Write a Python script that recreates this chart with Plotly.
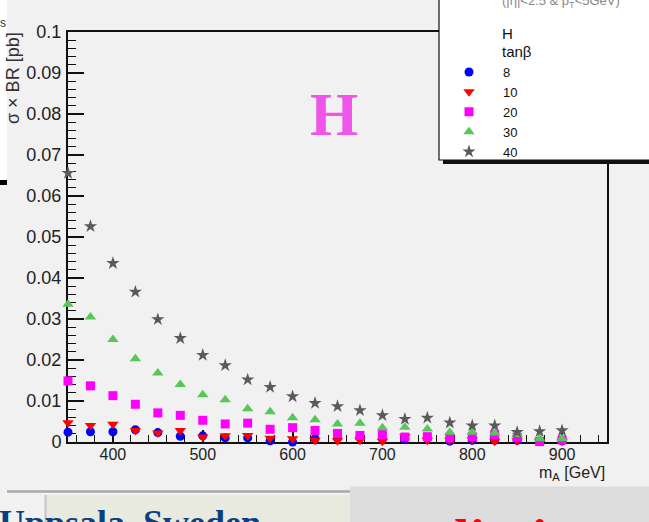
import plotly.graph_objects as go

# Charged Higgs (H) signal: sigma x BR versus m_A for several tan(beta) values
m_A = [350, 375, 400, 425, 450, 475, 500, 525, 550, 575, 600, 625,
       650, 675, 700, 725, 750, 775, 800, 825, 850, 875, 900]

tanb_labels = ["8", "10", "20", "30", "40"]

xsec_tb8 = [0.0024, 0.0025, 0.0025, 0.0030, 0.0023, 0.0014, 0.0015, 0.0010,
            0.0010, 0.0003, 0.0000, 0.0008, 0.0012, 0.0012, 0.0008, 0.0008,
            0.0010, 0.0002, 0.0004, 0.0004, 0.0004, 0.0003, 0.0003]
xsec_tb10 = [0.0047, 0.0040, 0.0043, 0.0028, 0.0022, 0.0028, 0.0012, 0.0015,
             0.0016, 0.0009, 0.0008, 0.0004, 0.0003, 0.0004, 0.0002, 0.0013,
             0.0004, 0.0004, 0.0006, 0.0002, 0.0003, 0.0002, 0.0002]
xsec_tb20 = [0.0149, 0.0137, 0.0113, 0.0092, 0.0071, 0.0065, 0.0053, 0.0044,
             0.0046, 0.0031, 0.0035, 0.0028, 0.0021, 0.0016, 0.0018, 0.0012,
             0.0013, 0.0010, 0.0013, 0.0018, 0.0012, 0.0001, 0.0005]
xsec_tb30 = [0.0336, 0.0305, 0.0250, 0.0203, 0.0168, 0.0140, 0.0115, 0.0103,
             0.0081, 0.0074, 0.0059, 0.0054, 0.0044, 0.0046, 0.0035, 0.0036,
             0.0032, 0.0024, 0.0024, 0.0022, 0.0018, 0.0008, 0.0008]
xsec_tb40 = [0.0656, 0.0526, 0.0436, 0.0366, 0.0299, 0.0253, 0.0212, 0.0187,
             0.0152, 0.0134, 0.0111, 0.0095, 0.0087, 0.0077, 0.0065, 0.0056,
             0.0059, 0.0047, 0.0040, 0.0040, 0.0024, 0.0026, 0.0028]

series = [xsec_tb8, xsec_tb10, xsec_tb20, xsec_tb30, xsec_tb40]
symbols = ["circle", "triangle-down", "square", "triangle-up", "star"]
colors = ["#0000ff", "#ff0000", "#ff00ff", "#55c855", "#5a5a5a"]
sizes = [9, 10, 9, 10, 10]

W, H = 649, 522
ML, MR, MT, MB = 68, 42, 32, 80
PW, PH = W - ML - MR, H - MT - MB


def px(x):
    return (x - ML) / PW


def py(y):
    return (H - MB - y) / PH


BG = "#f1f1f1"

fig = go.Figure()
for lab, ys, sym, col, sz in zip(tanb_labels, series, symbols, colors, sizes):
    fig.add_trace(go.Scatter(
        x=m_A, y=ys, mode="markers", name=lab, cliponaxis=False,
        marker=dict(symbol=sym, color=col, size=sz, line=dict(width=0)),
    ))

shapes = [
    # white strip and dark bar at the left edge
    dict(type="rect", xref="paper", yref="paper", x0=px(-5), x1=px(7),
         y0=py(181), y1=py(-5), fillcolor="white", line=dict(width=0), layer="below"),
    dict(type="rect", xref="paper", yref="paper", x0=px(-5), x1=px(7),
         y0=py(185), y1=py(180), fillcolor="black", line=dict(width=0), layer="above"),
    # legend box with shadow
    dict(type="rect", xref="paper", yref="paper", x0=px(443), x1=px(660),
         y0=py(164), y1=py(158), fillcolor="#111111", line=dict(width=0), layer="above"),
    dict(type="rect", xref="paper", yref="paper", x0=px(439), x1=px(660),
         y0=py(160), y1=py(-5), fillcolor="white",
         line=dict(color="#111111", width=1.2), layer="above"),
    # footer bands
    dict(type="line", xref="paper", yref="paper", x0=px(7), x1=px(350),
         y0=py(491.5), y1=py(491.5), line=dict(color="#a8a8a8", width=2.5), layer="above"),
    dict(type="rect", xref="paper", yref="paper", x0=px(45), x1=px(350),
         y0=py(530), y1=py(495), fillcolor="#e8eadf", line=dict(width=0), layer="below"),
    dict(type="line", xref="paper", yref="paper", x0=px(45.5), x1=px(45.5),
         y0=py(530), y1=py(495), line=dict(color="#c4c4c4", width=2), layer="above"),
    dict(type="rect", xref="paper", yref="paper", x0=px(350), x1=px(660),
         y0=py(530), y1=py(486.5), fillcolor="#dcdcdc", line=dict(width=0), layer="below"),
]


def note(text, x, y, size, color, family="Liberation Sans",
         xanchor="center", yanchor="middle", **kw):
    return dict(text=text, x=px(x), y=py(y), xref="paper", yref="paper",
                xanchor=xanchor, yanchor=yanchor, showarrow=False,
                font=dict(family=family, size=size, color=color), **kw)


ann = [
    note("<b>H</b>", 334, 114, 62, "#ef55e9", family="Liberation Serif"),
    note("(|η|&lt;2.5 &amp; p<sub>T</sub>&lt;5GeV)", 561, 2, 13, "#888888"),
    note("H", 500, 33, 15, "#111111", xanchor="left"),
    note("tanβ", 500, 51, 15, "#111111", xanchor="left"),
    note("σ × BR [pb]", 13, 30, 18, "#333333", yanchor="top", textangle=-90),
    note("s", 3, 23, 12, "#333333"),
    note("m<sub>A</sub> [GeV]", 607, 473, 16, "#222222", xanchor="right"),
    note("<b>Uppsala, Sweden</b>", -3, 501, 36, "#0d3f7e", family="Liberation Serif",
         xanchor="left", yanchor="top"),
    note("<b>limits</b>", 452, 507, 56, "#ff0000", family="Liberation Serif",
         xanchor="left", yanchor="top"),
]

axis_common = dict(
    showline=True, linecolor="#111111", linewidth=2, mirror=True,
    ticks="inside", tickcolor="#111111", tickwidth=1.5,
    showgrid=False, zeroline=False, layer="below traces",
)

fig.update_layout(
    width=W, height=H,
    margin=dict(l=ML, r=MR, t=MT, b=MB, pad=0),
    paper_bgcolor=BG, plot_bgcolor=BG,
    xaxis=dict(range=[350, 950], dtick=100, tick0=0, ticklen=12,
               minor=dict(dtick=20, tick0=0, ticks="inside", ticklen=7,
                          tickcolor="#111111", tickwidth=1.2),
               ticklabelstandoff=-3,
               tickfont=dict(family="Liberation Sans", size=16, color="#222222"),
               **axis_common),
    yaxis=dict(range=[0, 0.1], dtick=0.01, tick0=0, ticklen=16,
               minor=dict(dtick=0.002, tick0=0, ticks="inside", ticklen=8,
                          tickcolor="#111111", tickwidth=1.2),
               ticklabelstandoff=1,
               tickfont=dict(family="Liberation Sans", size=18, color="#222222"),
               **axis_common),
    showlegend=True,
    legend=dict(x=px(435), y=py(57), xanchor="left", yanchor="top",
                bgcolor="rgba(0,0,0,0)", borderwidth=0, tracegroupgap=0,
                itemwidth=58,
                font=dict(family="Liberation Sans", size=13, color="#111111")),
    shapes=shapes,
    annotations=ann,
)

fig.write_html("out.html")
